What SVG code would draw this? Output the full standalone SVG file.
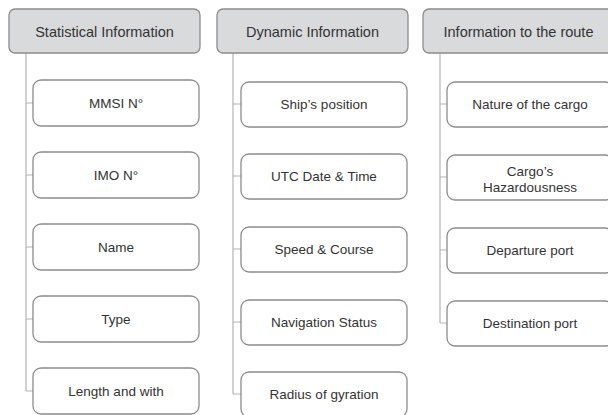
<svg xmlns="http://www.w3.org/2000/svg" width="608" height="415" viewBox="0 0 608 415">
<style>
.hdr{fill:#d9dadc;stroke:#8c8c8c;stroke-width:1.3}
.box{fill:#ffffff;stroke:#8c8c8c;stroke-width:1.3}
.ht{font-family:"Liberation Sans",Arial,sans-serif;font-size:14.5px;fill:#333;text-anchor:middle}
.bt{font-family:"Liberation Sans",Arial,sans-serif;font-size:13.5px;fill:#333;text-anchor:middle}
.ln{stroke:#b3b3b3;stroke-width:1.2;fill:none}
</style>
<rect width="608" height="415" fill="#ffffff"/>
<g id="connectors">
<path class="ln" d="M26 53V391M26 103H33M26 175H33M26 247H33M26 319H33M26 391H33"/>
<path class="ln" d="M233 53V394M233 104H241M233 176H241M233 249H241M233 322H241M233 394H241"/>
<path class="ln" d="M440 53V323M440 104H447M440 177H447M440 250H447M440 323H447"/>
</g>
<g id="h1"><rect class="hdr" x="9" y="9" width="191" height="44" rx="6"/><text class="ht" x="104.5" y="37">Statistical Information</text></g>
<g id="h2"><rect class="hdr" x="217" y="9" width="191" height="44" rx="6"/><text class="ht" x="312.5" y="37">Dynamic Information</text></g>
<g id="h3"><rect class="hdr" x="423" y="9" width="191" height="44" rx="6"/><text class="ht" x="518.5" y="37">Information to the route</text></g>

<g id="c1a"><rect class="box" x="33" y="80" width="166" height="46" rx="8"/><text class="bt" x="116" y="108">MMSI N°</text></g>
<g id="c1b"><rect class="box" x="33" y="152" width="166" height="46" rx="8"/><text class="bt" x="116" y="180">IMO N°</text></g>
<g id="c1c"><rect class="box" x="33" y="224" width="166" height="46" rx="8"/><text class="bt" x="116" y="252">Name</text></g>
<g id="c1d"><rect class="box" x="33" y="296" width="166" height="46" rx="8"/><text class="bt" x="116" y="324">Type</text></g>
<g id="c1e"><rect class="box" x="33" y="368" width="166" height="46" rx="8"/><text class="bt" x="116" y="396">Length and with</text></g>

<g id="c2a"><rect class="box" x="241" y="82" width="166" height="45" rx="8"/><text class="bt" x="324" y="109">Ship’s position</text></g>
<g id="c2b"><rect class="box" x="241" y="154" width="166" height="45" rx="8"/><text class="bt" x="324" y="181">UTC Date &amp; Time</text></g>
<g id="c2c"><rect class="box" x="241" y="227" width="166" height="45" rx="8"/><text class="bt" x="324" y="254">Speed &amp; Course</text></g>
<g id="c2d"><rect class="box" x="241" y="300" width="166" height="45" rx="8"/><text class="bt" x="324" y="327">Navigation Status</text></g>
<g id="c2e"><rect class="box" x="241" y="372" width="166" height="45" rx="8"/><text class="bt" x="324" y="399">Radius of gyration</text></g>

<g id="c3a"><rect class="box" x="447" y="82" width="166" height="45" rx="8"/><text class="bt" x="530" y="109">Nature of the cargo</text></g>
<g id="c3b"><rect class="box" x="447" y="155" width="166" height="45" rx="8"/><text class="bt" x="530" y="176">Cargo’s</text><text class="bt" x="530" y="192">Hazardousness</text></g>
<g id="c3c"><rect class="box" x="447" y="228" width="166" height="45" rx="8"/><text class="bt" x="530" y="255">Departure port</text></g>
<g id="c3d"><rect class="box" x="447" y="301" width="166" height="45" rx="8"/><text class="bt" x="530" y="328">Destination port</text></g>
</svg>
